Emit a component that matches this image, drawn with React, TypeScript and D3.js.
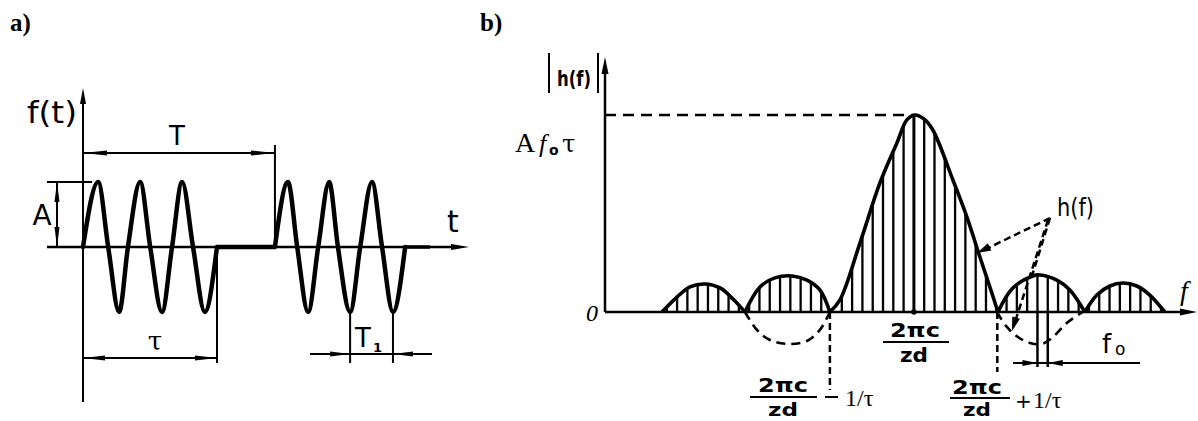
import React from 'react';
import * as d3 from 'd3';

const W = 1198;
const H = 421;

// ---------- Panel a: pulsed carrier (time in units of carrier period T1) ----------
const PULSE1_T = [0, 0.36, 0.6, 0.86, 1.07, 1.36, 1.6, 1.88, 2.12, 2.36, 2.62, 2.9, 3.19];
const PULSE1_V = [0, 1, 0, -1, 0, 1, 0, -1, 0, 1, 0, -1, 0];
const PULSE2_T = [4.57, 4.88, 5.1, 5.36, 5.6, 5.86, 6.07, 6.36, 6.6, 6.88, 7.12, 7.38, 7.67];
const PULSE2_V = [0, 1, 0, -1, 0, 1, 0, -1, 0, 1, 0, -1, 0];
const TAU_END = 3.19;
const PERIOD_T = 4.57;
const T1_MARKS = [6.36, 7.38];

// ---------- Panel b: spectrum |h(f)| (frequency in units of f0) ----------
const LOBE_L2_F = [5.53, 6.99, 8.25, 9.71, 11.17, 12.43, 13.59];
const LOBE_L2_H = [0, 0.076, 0.127, 0.142, 0.122, 0.066, 0];
const LOBE_L1_F = [13.59, 15.05, 16.5, 18.16, 19.61, 20.87, 21.84];
const LOBE_L1_H = [0, 0.127, 0.173, 0.183, 0.162, 0.112, 0];
const LOBE_MAIN_F = [21.84, 22.82, 24.76, 26.7, 28.35, 29.32, 30.1, 30.97, 31.84, 33.79, 35.15, 36.41, 37.38, 38.16];
const LOBE_MAIN_H = [0, 0.061, 0.35, 0.655, 0.858, 0.975, 1.0, 0.98, 0.924, 0.67, 0.482, 0.279, 0.127, 0];
const LOBE_R1_F = [38.16, 39.61, 41.55, 42.23, 43.88, 45.15, 46.6];
const LOBE_R1_H = [0, 0.122, 0.183, 0.188, 0.162, 0.112, 0];
const LOBE_R2_F = [46.6, 47.77, 49.03, 50.29, 51.65, 52.91, 54.37];
const LOBE_R2_H = [0, 0.086, 0.132, 0.147, 0.132, 0.086, 0];

const NEG_L1_F = [13.59, 14.76, 16.02, 17.77, 19.61, 20.87, 21.84];
const NEG_L1_H = [0, -0.091, -0.142, -0.162, -0.147, -0.091, 0];
const NEG_R1_F = [38.06, 39.03, 40.1, 41.26, 42.43, 43.5, 44.85, 46.41];
const NEG_R1_H = [0, -0.076, -0.127, -0.157, -0.162, -0.127, -0.056, 0];

const HARMONICS = [6, 7, 8, 9, 10, 11, 12, 13, 14, 15, 16, 17, 18, 19, 20, 21, 22, 23, 24, 25, 26, 27, 28, 29, 30,
  31, 32, 33, 34, 35, 36, 37, 38, 39, 40, 41, 42, 43, 44, 45, 46, 47, 48, 49, 50, 51, 52, 53, 54];
const CENTER_F = 30;
const ZERO_LEFT = 21.84;
const ZERO_RIGHT = 38.1;
const F0_MARKS = [42, 43];

const zip = (a: number[], b: number[]) => a.map((v, i) => [v, b[i]] as [number, number]);

function Head({ x, y, dx, dy, len = 16, w = 6 }: { x: number; y: number; dx: number; dy: number; len?: number; w?: number }) {
  const n = Math.hypot(dx, dy);
  const ux = dx / n, uy = dy / n;
  const bx = x - ux * len, by = y - uy * len;
  const px = -uy * w / 2, py = ux * w / 2;
  return <polygon points={`${x},${y} ${bx + px},${by + py} ${bx - px},${by - py}`} fill="#000" />;
}

export default function App() {
  // panel a scales
  const tX = d3.scaleLinear().domain([0, 10]).range([83, 503]);
  const vY = d3.scaleLinear().domain([-1, 1]).range([312, 182]);
  const waveLine = d3.line<[number, number]>().x(d => tX(d[0])).y(d => vY(d[1])).curve(d3.curveMonotoneX);
  const y0a = vY(0);

  // panel b scales
  const fX = d3.scaleLinear().domain([0, 57.3]).range([605, 1195]);
  const hY = d3.scaleLinear().domain([0, 1]).range([312, 115]);
  const curve = d3.curveCatmullRom.alpha(0.5);
  const envLine = d3.line<[number, number]>().x(d => fX(d[0])).y(d => hY(d[1])).curve(curve);
  const envArea = d3.area<[number, number]>().x(d => fX(d[0])).y0(hY(0)).y1(d => hY(d[1])).curve(curve);
  const lobes = [
    zip(LOBE_L2_F, LOBE_L2_H),
    zip(LOBE_L1_F, LOBE_L1_H),
    zip(LOBE_MAIN_F, LOBE_MAIN_H),
    zip(LOBE_R1_F, LOBE_R1_H),
    zip(LOBE_R2_F, LOBE_R2_H),
  ];
  const negs = [zip(NEG_L1_F, NEG_L1_H), zip(NEG_R1_F, NEG_R1_H)];
  const y0b = hY(0);

  const xTau = tX(TAU_END);
  const xT = tX(PERIOD_T);
  const xT1a = tX(T1_MARKS[0]);
  const xT1b = tX(T1_MARKS[1]);
  const yTop = vY(1);
  const yBot = vY(-1);

  const sans = '"DejaVu Sans", sans-serif';
  const serif = '"Liberation Serif", serif';

  const xZL = fX(ZERO_LEFT);
  const xZR = fX(ZERO_RIGHT);
  const xC = fX(CENTER_F);
  const xF0a = fX(F0_MARKS[0]);
  const xF0b = fX(F0_MARKS[1]);

  return (
    <svg width={W} height={H} style={{ position: 'absolute', left: 0, top: 0, background: '#fff' }}>
      <defs>
        <clipPath id="envClip">
          {lobes.map((l, i) => <path key={i} d={envArea(l) || ''} />)}
        </clipPath>
      </defs>

      {/* ================= Panel a ================= */}
      <text x={10} y={31} fontFamily={serif} fontWeight="bold" fontSize={25}>a)</text>

      {/* axes */}
      <line x1={tX(0)} y1={402} x2={tX(0)} y2={96} stroke="#000" strokeWidth={2} />
      <Head x={tX(0)} y={88} dx={0} dy={-1} len={16} w={6} />
      <line x1={47} y1={y0a} x2={458} y2={y0a} stroke="#000" strokeWidth={2.5} />
      <Head x={469} y={y0a} dx={1} dy={0} len={18} w={6} />
      <text x={27} y={123} fontFamily={sans} fontSize={31} textLength={50} lengthAdjust="spacingAndGlyphs">f(t)</text>
      <text x={447} y={232} fontFamily={sans} fontSize={30}>t</text>

      {/* signal */}
      <path d={waveLine(zip(PULSE1_T, PULSE1_V)) || ''} fill="none" stroke="#000" strokeWidth={4.5} strokeLinejoin="round" strokeLinecap="round" />
      <line x1={xTau} y1={y0a} x2={xT} y2={y0a} stroke="#000" strokeWidth={4.5} />
      <path d={waveLine(zip(PULSE2_T, PULSE2_V)) || ''} fill="none" stroke="#000" strokeWidth={4.5} strokeLinejoin="round" strokeLinecap="round" />
      <line x1={tX(PULSE2_T[PULSE2_T.length - 1])} y1={y0a} x2={430} y2={y0a} stroke="#000" strokeWidth={3.5} />

      {/* T dimension */}
      <line x1={tX(0)} y1={153} x2={xT} y2={153} stroke="#000" strokeWidth={2} />
      <line x1={xT} y1={145} x2={xT} y2={y0a} stroke="#000" strokeWidth={2} />
      <Head x={tX(0)} y={153} dx={-1} dy={0} len={24} w={5} />
      <Head x={xT} y={153} dx={1} dy={0} len={24} w={5} />
      <text x={177} y={145} textAnchor="middle" fontFamily={sans} fontSize={26}>T</text>

      {/* A dimension */}
      <line x1={47} y1={yTop} x2={92} y2={yTop} stroke="#000" strokeWidth={2} />
      <line x1={57} y1={yTop} x2={57} y2={y0a} stroke="#000" strokeWidth={2} />
      <Head x={57} y={yTop} dx={0} dy={-1} len={20} w={5} />
      <Head x={57} y={y0a} dx={0} dy={1} len={20} w={5} />
      <text x={42} y={225} textAnchor="middle" fontFamily={sans} fontSize={28}>A</text>

      {/* tau dimension */}
      <line x1={xTau} y1={y0a} x2={xTau} y2={363} stroke="#000" strokeWidth={2} />
      <line x1={tX(0)} y1={358} x2={xTau} y2={358} stroke="#000" strokeWidth={2} />
      <Head x={tX(0)} y={358} dx={-1} dy={0} len={22} w={5} />
      <Head x={xTau} y={358} dx={1} dy={0} len={22} w={5} />
      <text x={155} y={350} textAnchor="middle" fontFamily={'"DejaVu Serif", serif'} fontSize={26}>τ</text>

      {/* T1 dimension */}
      <line x1={xT1a} y1={yBot} x2={xT1a} y2={363} stroke="#000" strokeWidth={2} />
      <line x1={xT1b} y1={yBot} x2={xT1b} y2={363} stroke="#000" strokeWidth={2} />
      <line x1={310} y1={354} x2={432} y2={354} stroke="#000" strokeWidth={2} />
      <Head x={xT1a} y={354} dx={1} dy={0} len={20} w={5} />
      <Head x={xT1b} y={354} dx={-1} dy={0} len={20} w={5} />
      <text x={355} y={347} fontFamily={sans} fontSize={26}>T</text>
      <text x={373} y={352} fontFamily={sans} fontSize={13} fontWeight="bold">1</text>

      {/* ================= Panel b ================= */}
      <text x={480} y={31} fontFamily={serif} fontWeight="bold" fontSize={25}>b)</text>

      {/* axes */}
      <line x1={fX(0)} y1={y0b} x2={fX(0)} y2={70} stroke="#000" strokeWidth={2.5} />
      <Head x={fX(0)} y={57} dx={0} dy={-1} len={17} w={7} />
      <line x1={fX(0)} y1={y0b} x2={1182} y2={y0b} stroke="#000" strokeWidth={2.5} />
      <Head x={1197} y={y0b} dx={1} dy={0} len={17} w={7} />

      {/* |h(f)| label */}
      <line x1={549} y1={53} x2={549} y2={93} stroke="#000" strokeWidth={2} />
      <line x1={598} y1={53} x2={598} y2={93} stroke="#000" strokeWidth={2} />
      <text x={557} y={86} fontFamily={sans} fontWeight="bold" fontSize={22} textLength={34} lengthAdjust="spacingAndGlyphs">h(f)</text>

      {/* peak level */}
      <line x1={fX(0)} y1={hY(1)} x2={fX(CENTER_F)} y2={hY(1)} stroke="#000" strokeWidth={2.5} strokeDasharray="11,7" />
      <text x={515} y={152} fontFamily={serif} fontSize={28}>A</text>
      <text x={539} y={152} fontFamily={serif} fontStyle="italic" fontSize={26}>f</text>
      <text x={549} y={155} fontFamily={sans} fontWeight="bold" fontSize={14}>o</text>
      <text x={562} y={152} fontFamily={'"DejaVu Serif", serif'} fontSize={24}>τ</text>
      <text x={586} y={321} fontFamily={serif} fontStyle="italic" fontSize={24}>0</text>

      {/* spectral lines (clipped to envelope) */}
      <g clipPath="url(#envClip)">
        {HARMONICS.map(n => (
          <line key={n} x1={fX(n)} y1={y0b} x2={fX(n)} y2={hY(1.05)} stroke="#000" strokeWidth={n === CENTER_F ? 3 : 2.3} />
        ))}
      </g>
      <circle cx={xC} cy={y0b} r={2.8} fill="#000" />

      {/* envelope */}
      {lobes.map((l, i) => (
        <path key={i} d={envLine(l) || ''} fill="none" stroke="#000" strokeWidth={3.6} strokeLinejoin="round" />
      ))}
      {negs.map((l, i) => (
        <path key={i} d={envLine(l) || ''} fill="none" stroke="#000" strokeWidth={2.6} strokeDasharray="9,6" />
      ))}

      {/* zero markers */}
      <line x1={xZL} y1={y0b} x2={xZL} y2={390} stroke="#000" strokeWidth={2.5} strokeDasharray="7,4" />
      <line x1={xZR} y1={y0b} x2={xZR} y2={372} stroke="#000" strokeWidth={2.5} strokeDasharray="7,4" />

      {/* frequency labels */}
      <g fontFamily={sans} fontWeight="bold" textAnchor="middle">
        <text x={783} y={392} fontSize={20} textLength={50} lengthAdjust="spacingAndGlyphs">2πc</text>
        <line x1={750} y1={397} x2={817} y2={397} stroke="#000" strokeWidth={2} />
        <text x={783} y={416} fontSize={18} textLength={30} lengthAdjust="spacingAndGlyphs">zd</text>

        <text x={xC + 1} y={337} fontSize={20} textLength={50} lengthAdjust="spacingAndGlyphs">2πc</text>
        <line x1={883} y1={342} x2={949} y2={342} stroke="#000" strokeWidth={2} />
        <text x={xC} y={362} fontSize={19} textLength={28} lengthAdjust="spacingAndGlyphs">zd</text>

        <text x={977} y={394} fontSize={20} textLength={50} lengthAdjust="spacingAndGlyphs">2πc</text>
        <line x1={950} y1={398} x2={1010} y2={398} stroke="#000" strokeWidth={2} />
        <text x={977} y={416} fontSize={18} textLength={28} lengthAdjust="spacingAndGlyphs">zd</text>
      </g>
      <line x1={825} y1={397} x2={838} y2={397} stroke="#000" strokeWidth={2} />
      <text x={845} y={406} fontFamily={serif} fontSize={24}>1/τ</text>
      <text x={1015} y={408} fontFamily={sans} fontSize={20}>+</text>
      <text x={1033} y={408} fontFamily={serif} fontSize={24}>1/τ</text>

      {/* f0 dimension */}
      <line x1={xF0a} y1={y0b} x2={xF0a} y2={367} stroke="#000" strokeWidth={2.5} />
      <line x1={xF0b} y1={y0b} x2={xF0b} y2={367} stroke="#000" strokeWidth={2.5} />
      <line x1={1013} y1={363} x2={1140} y2={363} stroke="#000" strokeWidth={2} />
      <Head x={xF0a} y={363} dx={1} dy={0} len={15} w={6} />
      <Head x={xF0b} y={363} dx={-1} dy={0} len={15} w={6} />
      <text x={1102} y={353} fontFamily={sans} fontSize={26}>f</text>
      <text x={1115} y={355} fontFamily={sans} fontSize={17}>o</text>

      {/* h(f) callouts */}
      <text x={1057} y={216} fontFamily={sans} fontSize={24} textLength={37} lengthAdjust="spacingAndGlyphs">h(f)</text>
      <line x1={1050} y1={218} x2={984} y2={250} stroke="#000" strokeWidth={2.5} strokeDasharray="7,4" />
      <Head x={977} y={253} dx={-66} dy={32} len={14} w={8} />
      <line x1={1050} y1={218} x2={1031} y2={279} stroke="#000" strokeWidth={2.5} strokeDasharray="7,4" />
      <line x1={1048} y1={220} x2={1015} y2={322} stroke="#000" strokeWidth={2.5} strokeDasharray="7,4" />
      <Head x={1012} y={331} dx={-33} dy={108} len={14} w={8} />

      <text x={1180} y={300} fontFamily={serif} fontStyle="italic" fontSize={28}>f</text>
    </svg>
  );
}
